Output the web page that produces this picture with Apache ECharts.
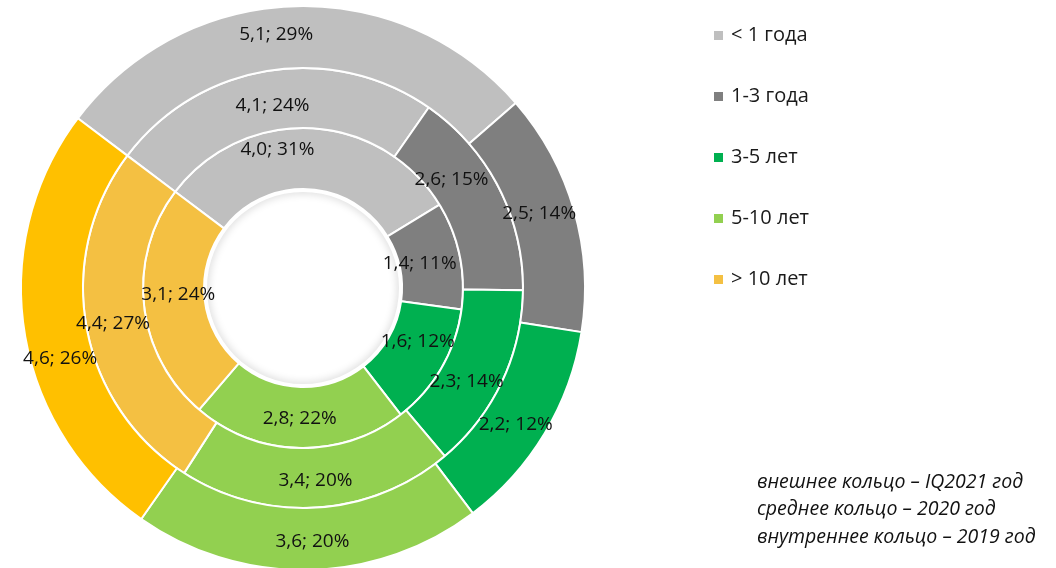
<!DOCTYPE html>
<html>
<head>
<meta charset="utf-8">
<script src="https://cdn.jsdelivr.net/npm/echarts@6/dist/echarts.min.js"></script>
<style>
  html, body { margin: 0; padding: 0; background: #ffffff; }
  #chart { width: 1056px; height: 568px; }
</style>
</head>
<body>
<div id="chart"></div>
<script>
// Categories (maturity buckets)
const categories = ['< 1 года', '1-3 года', '3-5 лет', '5-10 лет', '> 10 лет'];

// Inner ring – 2019
const values2019 = [4.0, 1.4, 1.6, 2.8, 3.1];
const pct2019 = ['31%', '11%', '12%', '22%', '24%'];

// Middle ring – 2020
const values2020 = [4.1, 2.6, 2.3, 3.4, 4.4];
const pct2020 = ['24%', '15%', '14%', '20%', '27%'];

// Outer ring – IQ2021
const values2021 = [5.1, 2.5, 2.2, 3.6, 4.6];
const pct2021 = ['29%', '14%', '12%', '20%', '26%'];

// Annotation lines
const noteLines = [
  'внешнее кольцо – IQ2021 год',
  'среднее кольцо – 2020 год',
  'внутреннее кольцо – 2019 год'
];

// ---- styling (not data) ----
const colorsInner = ['#BFBFBF', '#7F7F7F', '#00B050', '#92D050', '#F4C042'];
const colorsOuter = ['#BFBFBF', '#7F7F7F', '#00B050', '#92D050', '#FFC000'];
// small label nudges (px) per ring, mimicking the original label placement
const nudgeInner = [[-32, -6], [-13, 3], [0, -13], [0, -2], [7, -8]];
const nudgeMiddle = [[0, 8], [-23, -20], [-11, 11], [0, 0], [0, 2]];
const nudgeOuter = [[-18, 0], [-8, -4], [-5, 6], [5, 0], [8, 31]];

const FONT = '"Open Sans", "Noto Sans", sans-serif';
const CX = 303, CY = 288, START = 143;

function ringData(values, colors) {
  return categories.map((c, i) => ({
    name: c,
    value: values[i],
    itemStyle: { color: colors[i] }
  }));
}

function fmt(v) { return v.toFixed(1).replace('.', ','); }

function ring(name, values, pcts, colors, radius, nudges) {
  return {
    name: name,
    type: 'pie',
    center: [CX, CY],
    radius: radius,
    startAngle: START,
    clockwise: true,
    avoidLabelOverlap: false,
    silent: true,
    z: 3,
    itemStyle: { borderColor: '#ffffff', borderWidth: 2 },
    label: {
      show: true,
      position: 'inside',
      fontFamily: FONT,
      fontSize: 19,
      color: '#111111',
      formatter: p => fmt(values[p.dataIndex]) + '; ' + pcts[p.dataIndex]
    },
    labelLayout: p => ({
      hideOverlap: false,
      dx: nudges[p.dataIndex][0],
      dy: nudges[p.dataIndex][1]
    }),
    labelLine: { show: false },
    emphasis: { disabled: true },
    data: ringData(values, colors)
  };
}

const chart = echarts.init(document.getElementById('chart'), null, { renderer: 'canvas' });

chart.setOption({
  animation: false,
  backgroundColor: '#ffffff',
  legend: {
    orient: 'vertical',
    left: 707,
    top: 20,
    icon: 'rect',
    itemWidth: 11,
    itemHeight: 11,
    itemGap: 40,
    selectedMode: false,
    data: categories,
    textStyle: {
      fontFamily: FONT,
      fontSize: 20,
      lineHeight: 21,
      color: '#1a1a1a',
      padding: [0, 0, 0, 2]
    }
  },
  graphic: noteLines.map((t, i) => ({
    type: 'text',
    left: 757,
    top: 472 + i * 27.5,
    silent: true,
    style: {
      text: t,
      font: 'italic 19.5px ' + FONT,
      fill: '#111111'
    }
  })),
  series: [
    {
      name: 'hole-shadow',
      type: 'pie',
      center: [CX, CY],
      radius: [96, 100],
      silent: true,
      z: 1,
      label: { show: false },
      labelLine: { show: false },
      emphasis: { disabled: true },
      itemStyle: {
        color: '#ffffff',
        shadowBlur: 9,
        shadowColor: 'rgba(0,0,0,0.25)'
      },
      data: [{ name: 'shadow', value: 1 }]
    },
    ring('2019', values2019, pct2019, colorsInner, [99, 160], nudgeInner),
    ring('2020', values2020, pct2020, colorsInner, [160, 220], nudgeMiddle),
    ring('IQ2021', values2021, pct2021, colorsOuter, [220, 282], nudgeOuter)
  ]
});
</script>
</body>
</html>
